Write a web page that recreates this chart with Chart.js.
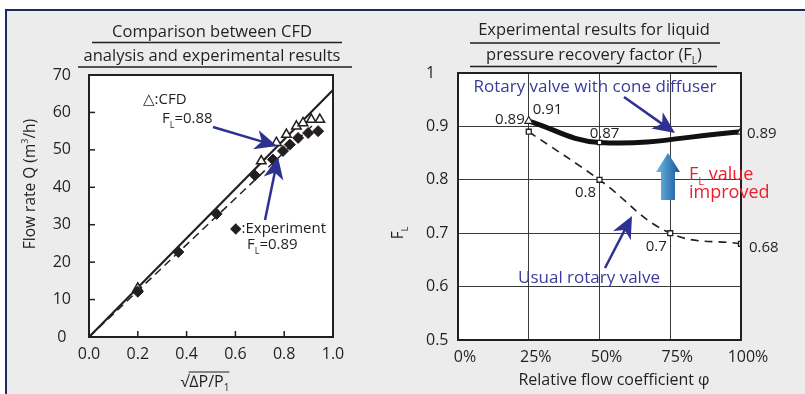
<!DOCTYPE html>
<html>
<head>
<meta charset="utf-8">
<script src="https://cdn.jsdelivr.net/npm/chart.js@4.4.1/dist/chart.umd.min.js"></script>
<style>
  body { margin: 0; width: 805px; height: 394px; background: #fff; overflow: hidden; position: relative; }
  #frame { position: absolute; left: 5px; top: 9px; right: 0; bottom: 0;
           border-left: 2px solid #1f2a5a; border-top: 2px solid #1f2a5a; background: #ececec; }
  canvas { position: absolute; top: 0; }
  #flowChart { left: 0; }
  #flChart { left: 380px; }
</style>
</head>
<body>
<div id="frame"></div>
<canvas id="flowChart" width="380" height="394"></canvas>
<canvas id="flChart" width="425" height="394"></canvas>
<script>
// left chart: flow rate vs sqrt(dP/P1)
const cfdX = [0.2, 0.706, 0.768, 0.809, 0.850, 0.877, 0.911, 0.946];
const cfdQ = [13.0, 47.0, 51.9, 54.1, 56.3, 57.2, 58.1, 58.1];
const expX = [0.2, 0.366, 0.523, 0.680, 0.754, 0.795, 0.823, 0.857, 0.898, 0.939];
const expQ = [12.1, 22.7, 32.9, 43.2, 47.4, 49.7, 51.4, 53.2, 54.5, 55.0];
const cfdFitX = [0, 1.0];
const cfdFitQ = [0, 66];
const expFitX = [0, 0.94];
const expFitQ = [0, 58];

// right chart: FL vs relative flow coefficient
const phiCone = [25, 50, 100];
const flCone = [0.91, 0.87, 0.89];
const phiUsual = [25, 50, 75, 100];
const flUsual = [0.89, 0.80, 0.70, 0.68];

const FONT = "'Open Sans', 'DejaVu Sans', sans-serif";
const INK = '#231f20';
const NAVY = '#2e3192';
const RED = '#ee1d2b';

const pts = (xs, ys) => xs.map((v, i) => ({ x: v, y: ys[i] }));

// text with sub/superscript pieces: parts = [[text, 'sub'|'sup'|undefined], ...]
function rich(ctx, parts, x, y, size, align, color) {
  ctx.save();
  ctx.fillStyle = color || INK;
  ctx.textBaseline = 'middle';
  ctx.textAlign = 'left';
  const fonts = parts.map(p => (p[1] ? Math.round(size * 0.6) : size) + 'px ' + FONT);
  let w = 0;
  parts.forEach((p, i) => { ctx.font = fonts[i]; w += ctx.measureText(p[0]).width; });
  let cx = align === 'center' ? x - w / 2 : align === 'right' ? x - w : x;
  parts.forEach((p, i) => {
    ctx.font = fonts[i];
    const dy = p[1] === 'sub' ? size * 0.4 : p[1] === 'sup' ? -size * 0.35 : 0;
    ctx.fillText(p[0], cx, y + dy);
    cx += ctx.measureText(p[0]).width;
  });
  ctx.restore();
  return w;
}

function text(ctx, s, x, y, size, align, color) {
  return rich(ctx, [[s]], x, y, size, align, color);
}

function arrow(ctx, x1, y1, x2, y2, color, lw, hl, hw) {
  const len = Math.hypot(x2 - x1, y2 - y1);
  ctx.save();
  ctx.translate(x2, y2);
  ctx.rotate(Math.atan2(y2 - y1, x2 - x1));
  ctx.strokeStyle = color;
  ctx.fillStyle = color;
  ctx.lineWidth = lw;
  ctx.beginPath(); ctx.moveTo(-len, 0); ctx.lineTo(-hl * 0.7, 0); ctx.stroke();
  ctx.beginPath();
  ctx.moveTo(0, 0); ctx.lineTo(-hl, -hw / 2); ctx.lineTo(-hl * 0.72, 0); ctx.lineTo(-hl, hw / 2);
  ctx.closePath(); ctx.fill();
  ctx.restore();
}

function hline(ctx, x1, x2, y) {
  ctx.save();
  ctx.strokeStyle = INK; ctx.lineWidth = 1.5;
  ctx.beginPath(); ctx.moveTo(x1, y); ctx.lineTo(x2, y); ctx.stroke();
  ctx.restore();
}

const whitePlot = {
  id: 'whitePlot',
  beforeDraw(chart) {
    const { ctx, chartArea: a } = chart;
    ctx.save();
    ctx.fillStyle = '#fff';
    ctx.fillRect(a.left, a.top, a.right - a.left, a.bottom - a.top);
    ctx.restore();
  }
};

const flowDeco = {
  id: 'flowDeco',
  afterDraw(chart) {
    const { ctx, chartArea: a, scales: { x, y } } = chart;
    ctx.save();
    ctx.strokeStyle = INK;
    ctx.lineWidth = 2;
    ctx.strokeRect(a.left, a.top, a.right - a.left, a.bottom - a.top);
    ctx.lineWidth = 1.5;
    x.ticks.forEach(t => {
      const px = x.getPixelForValue(t.value);
      ctx.beginPath(); ctx.moveTo(px, a.bottom); ctx.lineTo(px, a.bottom - 6); ctx.stroke();
    });
    y.ticks.forEach(t => {
      const py = y.getPixelForValue(t.value);
      ctx.beginPath(); ctx.moveTo(a.left, py); ctx.lineTo(a.left + 6, py); ctx.stroke();
    });
    ctx.restore();

    // title
    text(ctx, 'Comparison between CFD', 212, 32, 16.5, 'center');
    hline(ctx, 92, 342, 42.5);
    text(ctx, 'analysis and experimental results', 212, 56, 16.5, 'center');
    hline(ctx, 78, 352, 67);

    // y axis title
    ctx.save();
    ctx.translate(31, 184);
    ctx.rotate(-Math.PI / 2);
    rich(ctx, [['Flow rate Q (m'], ['3', 'sup'], ['/h)']], 0, 0, 15.5, 'center');
    ctx.restore();

    // x axis title: sqrt(dP/P1)
    const w = rich(ctx, [['\u221A'], ['\u2206P/P'], ['1', 'sub']], 205, 382, 16, 'center');
    ctx.save();
    ctx.strokeStyle = INK; ctx.lineWidth = 1;
    ctx.beginPath(); ctx.moveTo(205 - w / 2 + 8, 372); ctx.lineTo(205 + w / 2, 372); ctx.stroke();
    ctx.restore();

    // legend notes
    text(ctx, '\u25B3:CFD', 143, 100, 15, 'left');
    rich(ctx, [['F'], ['L', 'sub'], ['=0.88']], 162, 119, 15, 'left');
    arrow(ctx, 213, 127, 277, 146, NAVY, 2.5, 22, 20);
    arrow(ctx, 265, 220, 278, 157, NAVY, 2.5, 22, 20);
    text(ctx, '\u25C6:Experiment', 230, 229, 15, 'left');
    rich(ctx, [['F'], ['L', 'sub'], ['=0.89']], 247, 245, 15, 'left');
  }
};

new Chart(document.getElementById('flowChart'), {
  type: 'scatter',
  data: {
    datasets: [
      {
        label: 'Experiment',
        data: pts(expX, expQ),
        pointStyle: 'rectRot',
        pointRadius: 5.5,
        backgroundColor: INK,
        borderColor: INK,
        borderWidth: 1,
        order: 0
      },
      {
        label: 'CFD',
        data: pts(cfdX, cfdQ),
        pointStyle: 'triangle',
        pointRadius: 5.5,
        backgroundColor: '#fff',
        borderColor: INK,
        borderWidth: 1.5,
        order: 1
      },
      {
        label: 'CFD fit',
        data: pts(cfdFitX, cfdFitQ),
        showLine: true,
        pointRadius: 0,
        borderColor: INK,
        borderWidth: 2.2,
        order: 2
      },
      {
        label: 'Experiment fit',
        data: pts(expFitX, expFitQ),
        showLine: true,
        pointRadius: 0,
        borderColor: INK,
        borderWidth: 1.5,
        borderDash: [8, 5],
        order: 3
      }
    ]
  },
  options: {
    responsive: false,
    animation: false,
    layout: { padding: { left: 0, right: 47, top: 75, bottom: 0 } },
    plugins: { legend: { display: false }, tooltip: { enabled: false } },
    scales: {
      x: {
        type: 'linear',
        min: 0, max: 1,
        grid: { display: false, drawTicks: false },
        border: { display: false },
        ticks: { stepSize: 0.2, padding: 8, color: INK, font: { family: FONT, size: 16 },
                 callback: v => v.toFixed(1) },
        afterFit: s => { s.height = 57; }
      },
      y: {
        min: 0, max: 70,
        grid: { display: false, drawTicks: false },
        border: { display: false },
        ticks: { stepSize: 10, padding: 18, crossAlign: 'center', color: INK,
                 font: { family: FONT, size: 16 } },
        afterFit: s => { s.width = 89; }
      }
    }
  },
  plugins: [whitePlot, flowDeco]
});

// right chart decorations (canvas starts at x = 380)
const OX = 380;
const flDeco = {
  id: 'flDeco',
  afterDraw(chart) {
    const { ctx, chartArea: a, scales: { x, y } } = chart;
    ctx.save();
    ctx.strokeStyle = INK;
    ctx.lineWidth = 2;
    ctx.strokeRect(a.left, a.top, a.right - a.left, a.bottom - a.top);
    ctx.restore();

    // title
    text(ctx, 'Experimental results for liquid', 594 - OX, 30, 16.5, 'center');
    hline(ctx, 470 - OX, 720 - OX, 43);
    rich(ctx, [['pressure recovery factor (F'], ['L', 'sub'], [')']], 594 - OX, 55, 16.5, 'center');
    hline(ctx, 470 - OX, 717 - OX, 66.5);

    // axis titles
    ctx.save();
    ctx.translate(399 - OX, 233);
    ctx.rotate(-Math.PI / 2);
    rich(ctx, [['F'], ['L', 'sub']], 0, 0, 15.5, 'center');
    ctx.restore();
    text(ctx, 'Relative flow coefficient \u03C6', 614 - OX, 380, 16, 'center');

    // value labels next to points
    const px = v => x.getPixelForValue(v);
    const py = v => y.getPixelForValue(v);
    text(ctx, '0.91', px(phiCone[0]) + 4, py(flCone[0]) - 11, 15, 'left');
    text(ctx, '0.87', px(phiCone[1]) + 5, py(flCone[1]) - 9, 15, 'center');
    text(ctx, '0.89', px(phiCone[2]) + 6, py(flCone[2]) + 2, 15, 'left');
    text(ctx, '0.89', px(phiUsual[0]) - 4, py(flUsual[0]) - 12, 15, 'right');
    text(ctx, '0.8', px(phiUsual[1]) - 14, py(flUsual[1]) + 13, 15, 'center');
    text(ctx, '0.7', px(phiUsual[2]) - 14, py(flUsual[2]) + 14, 15, 'center');
    text(ctx, '0.68', px(phiUsual[3]) + 8, py(flUsual[3]) + 4, 15, 'left');

    // callouts
    text(ctx, 'Rotary valve with cone diffuser', 595 - OX, 87, 17, 'center', '#3a3b9c');
    arrow(ctx, 624 - OX, 97, 675 - OX, 133, NAVY, 2.5, 22, 20);
    text(ctx, 'Usual rotary valve', 589 - OX, 278, 17, 'center', '#3a3b9c');
    arrow(ctx, 605 - OX, 268, 632 - OX, 216, NAVY, 2.5, 22, 20);

    // improvement arrow
    const ax = 668 - OX;
    const g = ctx.createLinearGradient(ax - 11, 0, ax + 11, 0);
    g.addColorStop(0, '#6ab8e6');
    g.addColorStop(1, '#1d5a9c');
    ctx.save();
    ctx.fillStyle = g;
    ctx.beginPath();
    ctx.moveTo(ax, 153);
    ctx.lineTo(ax + 12, 172);
    ctx.lineTo(ax + 7, 172);
    ctx.lineTo(ax + 7, 200);
    ctx.lineTo(ax - 7, 200);
    ctx.lineTo(ax - 7, 172);
    ctx.lineTo(ax - 12, 172);
    ctx.closePath();
    ctx.fill();
    ctx.restore();
    rich(ctx, [['F'], ['L', 'sub'], [' value']], 689 - OX, 175, 18, 'left', RED);
    text(ctx, 'improved', 689 - OX, 193, 18, 'left', RED);
  }
};

new Chart(document.getElementById('flChart'), {
  type: 'line',
  data: {
    datasets: [
      {
        label: 'Usual rotary valve',
        data: pts(phiUsual, flUsual),
        borderColor: INK,
        borderWidth: 1.6,
        borderDash: [8, 6],
        tension: 0.4,
        pointStyle: 'rect',
        pointRadius: 3.5,
        pointBackgroundColor: '#fff',
        pointBorderColor: INK,
        pointBorderWidth: 1.3,
        order: 0
      },
      {
        label: 'Rotary valve with cone diffuser',
        data: pts(phiCone, flCone),
        borderColor: '#111',
        borderWidth: 5,
        tension: 0.4,
        pointStyle: ['triangle', 'rect', 'triangle'],
        pointRadius: [4.5, 3, 4.5],
        pointBackgroundColor: '#fff',
        pointBorderColor: INK,
        pointBorderWidth: 1.2,
        order: 1
      }
    ]
  },
  options: {
    responsive: false,
    animation: false,
    layout: { padding: { left: 46, right: 64, top: 73, bottom: 0 } },
    plugins: { legend: { display: false }, tooltip: { enabled: false } },
    scales: {
      x: {
        type: 'linear',
        min: 0, max: 100,
        grid: { color: '#3a3a3a', lineWidth: 1, drawTicks: false },
        border: { display: false },
        ticks: { stepSize: 25, padding: 8, labelOffset: 7, color: INK,
                 font: { family: FONT, size: 16 }, callback: v => v + '%' },
        afterFit: s => { s.height = 54; }
      },
      y: {
        min: 0.5, max: 1,
        grid: { color: '#3a3a3a', lineWidth: 1, drawTicks: false },
        border: { display: false },
        ticks: { stepSize: 0.1, crossAlign: 'far', color: INK,
                 font: { family: FONT, size: 16 },
                 callback: v => (Math.abs(v - 1) < 1e-9 ? '1' : v.toFixed(1)) },
        afterFit: s => { s.width = 32; }
      }
    }
  },
  plugins: [whitePlot, flDeco]
});
</script>
</body>
</html>
